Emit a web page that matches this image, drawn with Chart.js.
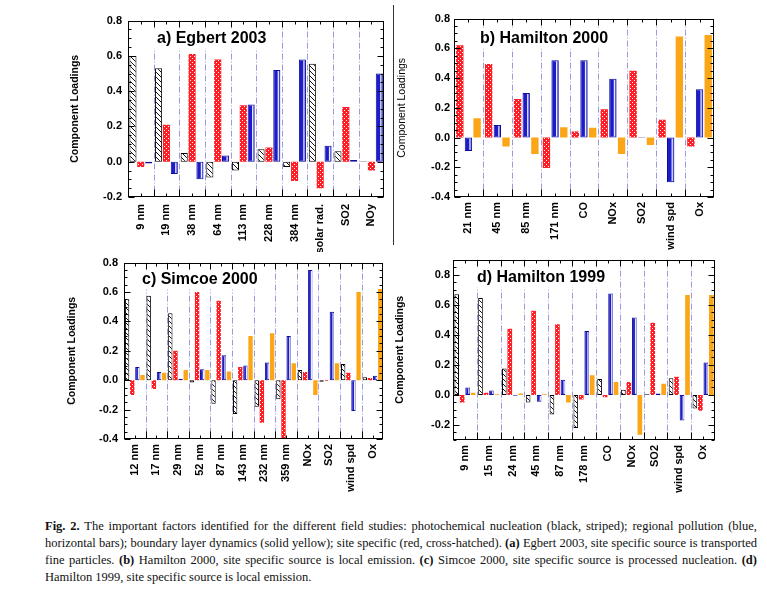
<!DOCTYPE html>
<html>
<head>
<meta charset="utf-8">
<script src="https://cdn.jsdelivr.net/npm/chart.js@4.4.1/dist/chart.umd.min.js"></script>
<style>
  body { margin: 0; background: #fff; width: 767px; height: 599px; position: relative; overflow: hidden; }
  canvas { position: absolute; }
  #sep { position: absolute; left: 393px; top: 5px; width: 1px; height: 240px; background: #333; }
  #caption { position: absolute; left: 45px; top: 518px; width: 712px; font: 12.5px/17px "Liberation Serif", "Times New Roman", serif; color: #111; }
  #caption div { white-space: nowrap; text-align: justify; text-align-last: justify; }
  #caption div.last { text-align-last: left; }
</style>
</head>
<body>
<canvas id="chartA" width="330" height="244" style="left:62px;top:8px"></canvas>
<canvas id="chartB" width="327" height="244" style="left:394px;top:8px"></canvas>
<canvas id="chartC" width="333" height="260" style="left:58px;top:250px"></canvas>
<canvas id="chartD" width="328" height="260" style="left:394px;top:250px"></canvas>
<div id="sep"></div>
<div id="caption">
  <div><b>Fig. 2.</b> The important factors identified for the different field studies: photochemical nucleation (black, striped); regional pollution (blue,</div>
  <div>horizontal bars); boundary layer dynamics (solid yellow); site specific (red, cross-hatched). <b>(a)</b> Egbert 2003, site specific source is transported</div>
  <div>fine particles. <b>(b)</b> Hamilton 2000, site specific source is local emission. <b>(c)</b> Simcoe 2000, site specific source is processed nucleation. <b>(d)</b></div>
  <div class="last">Hamilton 1999, site specific source is local emission.</div>
</div>
<script>
// a) Egbert 2003
const catsA = ['9 nm', '19 nm', '38 nm', '64 nm', '113 nm', '228 nm', '384 nm', 'solar rad.', 'SO2', 'NOy'];
const nuclA = [0.60, 0.53, 0.05, -0.09, -0.05, 0.07, -0.03, 0.555, 0.06, 0.003];
const siteA = [-0.03, 0.21, 0.61, 0.58, 0.32, 0.08, -0.11, -0.15, 0.31, -0.05];
const regA  = [-0.01, -0.07, -0.10, 0.035, 0.325, 0.52, 0.58, 0.09, 0.01, 0.50];
const yTicksA = [-0.2, 0, 0.2, 0.4, 0.6, 0.8];

// b) Hamilton 2000
const catsB = ['21 nm', '45 nm', '85 nm', '171 nm', 'CO', 'NOx', 'SO2', 'wind spd', 'Ox'];
const siteB = [0.62, 0.495, 0.26, -0.205, 0.04, 0.19, 0.45, 0.12, -0.06];
const regB  = [-0.09, 0.085, 0.30, 0.52, 0.52, 0.395, 0.003, -0.30, 0.325];
const blB   = [0.13, -0.06, -0.11, 0.07, 0.065, -0.11, -0.05, 0.68, 0.69];
const yTicksB = [-0.4, -0.2, 0, 0.2, 0.4, 0.6, 0.8];

// c) Simcoe 2000
const catsC = ['12 nm', '17 nm', '29 nm', '52 nm', '87 nm', '143 nm', '232 nm', '359 nm', 'NOx', 'SO2', 'wind spd', 'Ox'];
const nuclC = [0.55, 0.575, 0.455, -0.015, -0.16, -0.23, -0.18, -0.13, 0.07, -0.01, 0.11, 0.02];
const siteC = [-0.10, -0.06, 0.20, 0.60, 0.54, 0.09, -0.29, -0.40, 0.055, -0.005, 0.05, 0.015];
const regC  = [0.09, 0.055, 0.01, 0.075, 0.17, 0.10, 0.12, 0.30, 0.75, 0.465, -0.21, 0.03];
const blC   = [0.035, 0.05, 0.07, 0.07, 0.06, 0.30, 0.32, 0.115, -0.10, 0.115, 0.60, 0.62];
const yTicksC = [-0.4, -0.2, 0, 0.2, 0.4, 0.6, 0.8];

// d) Hamilton 1999
const catsD = ['9 nm', '15 nm', '24 nm', '45 nm', '87 nm', '178 nm', 'CO', 'NOx', 'SO2', 'wind spd', 'Ox'];
const nuclD = [0.67, 0.645, 0.175, -0.05, -0.13, -0.22, 0.105, 0.035, 0.005, 0.11, -0.09];
const siteD = [-0.05, 0.015, 0.44, 0.56, 0.47, -0.03, -0.015, 0.085, 0.48, 0.12, -0.105];
const regD  = [0.05, 0.03, -0.005, -0.045, 0.10, 0.425, 0.675, 0.515, 0.01, -0.17, 0.215];
const blD   = [0.015, 0.005, 0.01, 0.005, -0.05, 0.13, 0.085, -0.265, 0.075, 0.665, 0.665];
const yTicksD = [-0.2, 0, 0.2, 0.4, 0.6, 0.8];

const FONT = '"Liberation Sans", Arial, Helvetica, sans-serif';

function makePattern(size, draw) {
    const c = document.createElement('canvas');
    c.width = size; c.height = size;
    const g = c.getContext('2d');
    draw(g);
    return g.createPattern(c, 'repeat');
}

const hatch = makePattern(5, g => {
    g.fillStyle = '#fff'; g.fillRect(0, 0, 5, 5);
    g.strokeStyle = '#111'; g.lineWidth = 1;
    g.beginPath(); g.moveTo(-1, -1); g.lineTo(6, 6); g.stroke();
});
const dots = makePattern(4, g => {
    g.fillStyle = '#ff1e26'; g.fillRect(0, 0, 4, 4);
    g.fillStyle = '#ffffff';
    g.fillRect(0, 0, 1, 1); g.fillRect(2, 2, 1, 1);
});

const styles = {
    nucl: { backgroundColor: hatch, borderColor: '#000', borderWidth: 1, borderSkipped: false },
    site: { backgroundColor: dots, borderWidth: 0 },
    reg:  { backgroundColor: '#1c1cc8', borderColor: '#0d0d9c', borderWidth: 1, borderSkipped: false, stripe: true },
    bl:   { backgroundColor: '#fba616', borderWidth: 0 }
};

function ds(values, kind, cp, bp) {
    return Object.assign({ data: values, categoryPercentage: cp, barPercentage: bp }, styles[kind]);
}

// dashed boundaries, title box, frame and tick marks
const framePlugin = {
    id: 'frame',
    beforeDatasetsDraw(chart, args, opts) {
        const { ctx, chartArea: a, scales: { x } } = chart;
        const n = chart.data.labels.length;
        ctx.save();
        ctx.strokeStyle = '#9a9ae0';
        ctx.lineWidth = 1;
        ctx.setLineDash([6, 2, 1, 2]);
        for (let i = 1; i < n; i++) {
            const px = Math.round((x.getPixelForValue(i - 1) + x.getPixelForValue(i)) / 2) + 0.5;
            ctx.beginPath(); ctx.moveTo(px, a.top); ctx.lineTo(px, a.bottom); ctx.stroke();
        }
        ctx.setLineDash([]);
        ctx.font = 'bold 16px ' + FONT;
        const tw = ctx.measureText(opts.title).width;
        const tx = a.left + opts.tx, ty = a.top + opts.ty;
        ctx.fillStyle = '#fff';
        ctx.fillRect(tx - 3, ty - 10, tw + 6, 20);
        ctx.fillStyle = '#000';
        ctx.textBaseline = 'middle';
        ctx.fillText(opts.title, tx, ty);
        ctx.restore();
    },
    afterDatasetsDraw(chart, args, opts) {
        const { ctx, chartArea: a, scales: { x, y } } = chart;
        ctx.save();
        // white stripe inside the blue bars
        chart.data.datasets.forEach((d, i) => {
            if (!d.stripe) return;
            chart.getDatasetMeta(i).data.forEach(bar => {
                const p = bar.getProps(['x', 'y', 'base', 'width'], true);
                const h = Math.abs(p.base - p.y);
                if (h < 3) return;
                ctx.fillStyle = '#e8e8ff';
                ctx.fillRect(p.x + p.width * 0.12, Math.min(p.y, p.base) + 1, 1.3, h - 2);
            });
        });
        ctx.strokeStyle = '#000';
        ctx.lineWidth = 1;
        const L = Math.round(a.left) + 0.5, R = Math.round(a.right) - 0.5;
        const T = Math.round(a.top) + 0.5, B = Math.round(a.bottom) - 0.5;
        ctx.strokeRect(L, T, R - L, B - T);
        ctx.beginPath();
        // y ticks, major and minor, on both sides
        for (let v = Math.round(y.min * 20); v <= Math.round(y.max * 20); v++) {
            const val = v / 20;
            const py = Math.round(y.getPixelForValue(val)) + 0.5;
            const major = opts.yTicks.some(t => Math.abs(t - val) < 1e-6);
            const len = major ? 6 : 3;
            ctx.moveTo(L, py); ctx.lineTo(L + len, py);
            ctx.moveTo(R, py); ctx.lineTo(R - len, py);
        }
        // x ticks: long at boundaries, short at centres
        const n = chart.data.labels.length;
        for (let i = 0; i < n; i++) {
            const c = Math.round(x.getPixelForValue(i)) + 0.5;
            ctx.moveTo(c, T); ctx.lineTo(c, T + 3);
            ctx.moveTo(c, B); ctx.lineTo(c, B - 3);
            if (i > 0) {
                const px = Math.round((x.getPixelForValue(i - 1) + x.getPixelForValue(i)) / 2) + 0.5;
                ctx.moveTo(px, T); ctx.lineTo(px, T + 6);
                ctx.moveTo(px, B); ctx.lineTo(px, B - 7);
            }
        }
        ctx.stroke();
        ctx.restore();
    }
};

function makeChart(id, cats, sets, yTicks, cfg) {
    return new Chart(document.getElementById(id), {
        type: 'bar',
        data: { labels: cats, datasets: sets },
        options: {
            responsive: false,
            animation: false,
            layout: { padding: { top: cfg.padTop, right: 7, left: 0, bottom: 0 } },
            plugins: {
                legend: { display: false },
                tooltip: { enabled: false },
                frame: { title: cfg.title, tx: cfg.tx, ty: cfg.ty, yTicks: yTicks }
            },
            scales: {
                x: {
                    grid: { display: false, drawTicks: false },
                    border: { display: false },
                    ticks: {
                        minRotation: 90, maxRotation: 90, autoSkip: false,
                        padding: cfg.xPad, color: '#000',
                        font: { family: FONT, size: 11, weight: 'bold' }
                    },
                    afterFit: s => { s.height = cfg.xH; }
                },
                y: {
                    min: cfg.min, max: cfg.max,
                    grid: { display: false, drawTicks: false },
                    border: { display: false },
                    afterBuildTicks: s => { s.ticks = yTicks.map(v => ({ value: v })); },
                    ticks: {
                        padding: cfg.yPad, color: '#000',
                        font: { family: FONT, size: 11, weight: 'bold' },
                        callback: v => Number(v).toFixed(1)
                    },
                    title: {
                        display: true, text: 'Component Loadings', color: '#000',
                        font: { family: FONT, size: 10.5, weight: cfg.titleWeight },
                        padding: { top: cfg.titlePad, bottom: 0 }
                    },
                    afterFit: s => { s.width = cfg.yW; }
                }
            }
        },
        plugins: [framePlugin]
    });
}

makeChart('chartA', catsA,
    [ds(nuclA, 'nucl', 0.92, 0.9), ds(siteA, 'site', 0.92, 0.9), ds(regA, 'reg', 0.92, 0.9)],
    yTicksA,
    { min: -0.2, max: 0.8, padTop: 11, yW: 66, yPad: 6, xH: 55, xPad: 7, titlePad: 7, titleWeight: 'bold',
      title: 'a) Egbert 2003', tx: 29, ty: 18 });

makeChart('chartB', catsB,
    [ds(siteB, 'site', 0.9, 0.85), ds(regB, 'reg', 0.9, 0.85), ds(blB, 'bl', 0.9, 0.85)],
    yTicksB,
    { min: -0.4, max: 0.8, padTop: 10, yW: 60, yPad: 4, xH: 55, xPad: 5, titlePad: 2, titleWeight: 'normal',
      title: 'b) Hamilton 2000', tx: 26, ty: 20 });

makeChart('chartC', catsC,
    [ds(nuclC, 'nucl', 0.95, 0.85), ds(siteC, 'site', 0.95, 0.85), ds(regC, 'reg', 0.95, 0.85), ds(blC, 'bl', 0.95, 0.85)],
    yTicksC,
    { min: -0.4, max: 0.8, padTop: 9, yW: 66, yPad: 6, xH: 71, xPad: 5, titlePad: 8, titleWeight: 'bold',
      title: 'c) Simcoe 2000', tx: 18, ty: 17 });

makeChart('chartD', catsD,
    [ds(nuclD, 'nucl', 0.92, 0.85), ds(siteD, 'site', 0.92, 0.85), ds(regD, 'reg', 0.92, 0.85), ds(blD, 'bl', 0.92, 0.85)],
    yTicksD,
    { min: -0.3, max: 0.9, padTop: 8, yW: 59, yPad: 3, xH: 70, xPad: 5, titlePad: 0, titleWeight: 'bold',
      title: 'd) Hamilton 1999', tx: 24, ty: 18 });
</script>
</body>
</html>
